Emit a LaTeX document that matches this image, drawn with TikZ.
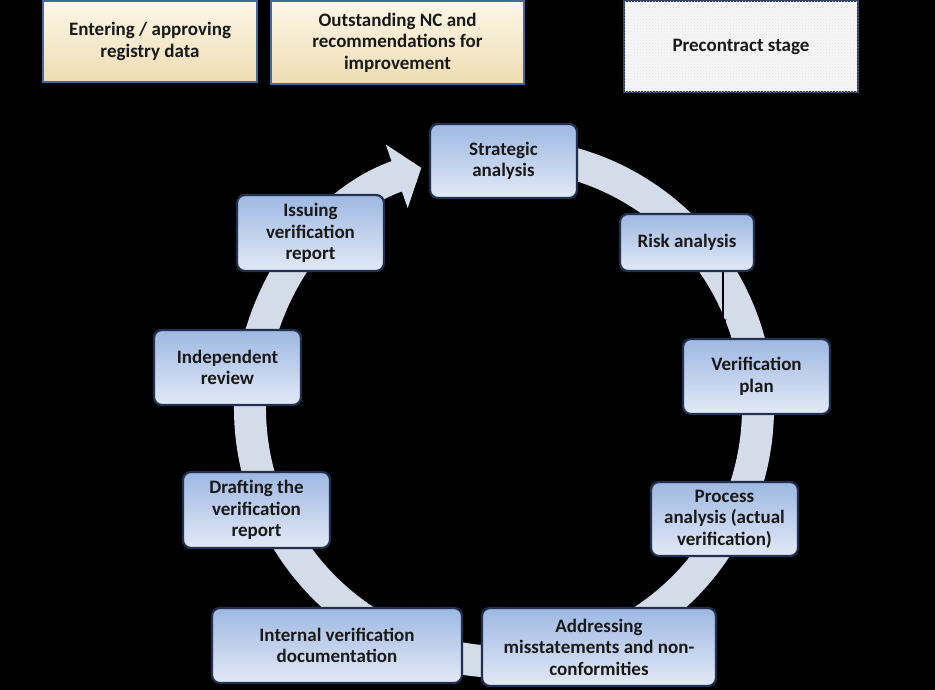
\documentclass[tikz,border=0pt]{standalone}
\usepackage{fontspec}
\setmainfont{Carlito}
\usepackage{tikz}
\usetikzlibrary{arrows.meta, patterns}
\definecolor{ringblue}{RGB}{212,219,233}
\definecolor{boxtop}{RGB}{158,184,226}
\definecolor{boxbot}{RGB}{226,233,246}
\definecolor{boxline}{RGB}{32,48,78}
\definecolor{notetop}{RGB}{253,247,232}
\definecolor{notebot}{RGB}{238,220,178}
\definecolor{noteline}{RGB}{66,104,160}
\definecolor{preline}{RGB}{40,56,86}
\tikzset{
		every node/.style = {font=\fontsize{19}{21.5}\selectfont\bfseries, text=black!90, align=center},
		stagebox/.style   = {draw=boxline, line width=2.2pt, rounded corners=8pt, top color=boxtop, bottom color=boxbot, inner sep=0pt},
		notebox/.style    = {draw=noteline, line width=2pt, top color=notetop, bottom color=notebot, inner sep=0pt},
		prebox/.style     = {draw=preline, line width=1.6pt, fill=gray!6, inner sep=0pt},
		cycle/.style      = {ringblue, line width=32pt},
		flowline/.style   = {black, line width=2pt}
	}

\begin{document}
\begin{tikzpicture}[x=1pt, y=1pt, >={Stealth[length=9pt]}]
				\fill[black] (0,0) rectangle (935,-690);
				\useasboundingbox (0,0) rectangle (935,-690);

				% cycle ring with the head back to the start
				\coordinate (hub) at (504,-408);
				\draw[cycle, -{Triangle[width=66pt, length=26pt]}]
					([shift={(86:254pt)}]hub) arc (86:-251:254pt);

				% top row
				\node[notebox, minimum width=214pt, minimum height=81pt] (enter)  at (150,-41.5)  {Entering / approving\\registry data};
				\node[notebox, minimum width=253pt, minimum height=83pt] (outst)  at (397.5,-42.5) {Outstanding NC and\\recommendations for\\improvement};
				\node[prebox,  minimum width=234pt, minimum height=91pt] (precon) at (741,-46.5)  {};
				\fill[pattern=crosshatch dots, pattern color=gray!22] (precon.south west) rectangle (precon.north east);
				\node at (precon) {Precontract stage};

				% stages of the cycle
				\node[stagebox, minimum width=147pt, minimum height=74pt] (strat)  at (503.5,-161) {Strategic\\analysis};
				\node[stagebox, minimum width=134pt, minimum height=57pt] (risk)   at (687,-242.5) {Risk analysis};
				\node[stagebox, minimum width=147pt, minimum height=75pt] (plan)   at (756.5,-376.5) {Verification\\plan};
				\node[stagebox, minimum width=147pt, minimum height=74pt] (proc)   at (724.5,-519) {Process\\analysis (actual\\verification)};
				\node[stagebox, minimum width=234pt, minimum height=78pt] (addr)   at (599,-647) {Addressing\\misstatements and non-\\conformities};
				\node[stagebox, minimum width=250pt, minimum height=75pt] (intdoc) at (337,-645.5) {Internal verification\\documentation};
				\node[stagebox, minimum width=147pt, minimum height=76pt] (draft)  at (256.5,-510) {Drafting the\\verification\\report};
				\node[stagebox, minimum width=147pt, minimum height=75pt] (indep)  at (227.5,-367.5) {Independent\\review};
				\node[stagebox, minimum width=147pt, minimum height=76pt] (issue)  at (310.5,-233) {Issuing\\verification\\report};

				\draw[flowline, ->, shorten >=10pt] ([xshift=36pt]risk.south) -- ([xshift=36pt]risk.south |- plan.north);
			\end{tikzpicture}
\end{document}
